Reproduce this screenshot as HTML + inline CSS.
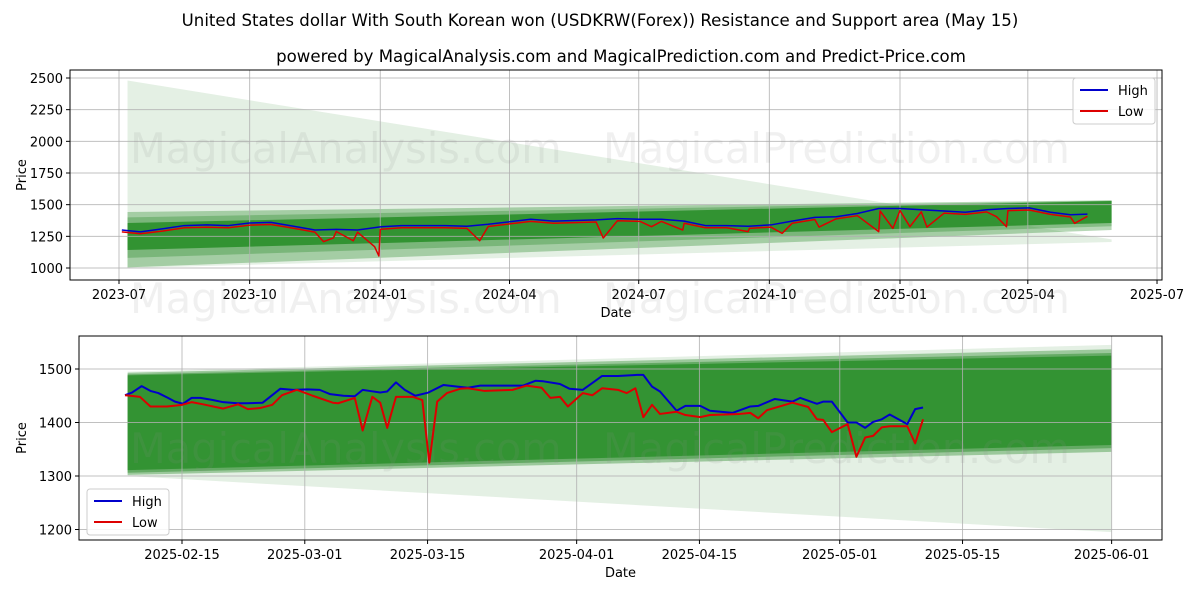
<!DOCTYPE html>
<html><head><meta charset="utf-8"><style>
body{margin:0;background:#fff;font-family:"Liberation Sans","DejaVu Sans",sans-serif;}
svg text{font-family:"DejaVu Sans","Liberation Sans",sans-serif;}
</style></head><body>
<svg id="c" width="1200" height="600" viewBox="0 0 1200 600" xmlns="http://www.w3.org/2000/svg">
<rect width="1200" height="600" fill="#fff"/>
<text x="600" y="26" text-anchor="middle" font-size="16.6">United States dollar With South Korean won (USDKRW(Forex)) Resistance and Support area (May 15)</text>
<text x="621" y="62" text-anchor="middle" font-size="16.6">powered by MagicalAnalysis.com and MagicalPrediction.com and Predict-Price.com</text>
<g id="top"></g>
<g id="bot"></g>
</svg>
<script>
// ---- Top chart data (day offsets from 2023-07-01) ----
const tHighDays=[2,15,31,46,62,77,92,107,123,138,153,168,184,199,215,230,245,260,275,290,306,321,336,351,367,382,398,413,428,443,459,474,490,505,520,535,550,565,581,596,611,626,641,656,670,682];
const tHigh=[1300,1285,1310,1335,1340,1335,1355,1360,1330,1300,1305,1300,1325,1335,1335,1335,1330,1345,1365,1385,1370,1375,1380,1390,1385,1385,1370,1335,1335,1330,1340,1370,1400,1405,1430,1470,1470,1460,1450,1440,1460,1470,1475,1440,1420,1425];
const tLowDays=[2,15,31,46,62,77,92,107,123,138,144,151,153,165,168,180,183,184,199,215,230,245,254,260,275,290,306,321,336,341,351,367,375,382,397,398,413,428,443,444,459,467,474,490,493,505,520,535,536,545,550,557,565,569,581,596,611,618,625,626,641,656,670,673,682];
const tLow=[1285,1270,1292,1318,1322,1318,1338,1343,1314,1283,1208,1237,1288,1215,1283,1168,1095,1305,1318,1318,1318,1313,1215,1328,1348,1368,1353,1358,1363,1237,1373,1368,1326,1368,1300,1353,1318,1318,1287,1313,1323,1274,1353,1383,1323,1388,1413,1287,1450,1313,1453,1326,1443,1323,1433,1423,1443,1405,1326,1453,1458,1423,1403,1353,1408];
const tTickLabels=["2023-07","2023-10","2024-01","2024-04","2024-07","2024-10","2025-01","2025-04","2025-07"];
const tTickDays=[0,92,184,275,366,458,550,640,731];
const tYTicks=[1000,1250,1500,1750,2000,2250,2500];
// ---- Bottom chart data (day offsets from 2025-02-15) ----
const bHighDays=[-6.5,-5.7,-4.6,-3.6,-2.7,-1.6,-0.8,0.1,1.1,2.1,3.5,4.7,6.3,7.4,9.2,11.2,12.7,14.3,15.7,16.9,18.4,19.7,20.6,21.4,22.6,23.4,24.4,25.4,26.6,28.1,29.8,31.4,32.6,34.0,35.9,38.9,40.3,41.2,43.1,44.2,45.7,47.9,49.7,51.9,52.6,53.6,54.5,56.4,57.4,59.1,60.2,62.8,64.8,65.7,67.6,69.6,70.5,72.4,73.1,74.1,75.9,76.9,77.9,78.8,79.8,80.7,82.7,83.6,84.5];
const bHigh=[1451,1456,1468,1459,1455,1446,1439,1435,1446,1446,1442,1438,1436,1436,1437,1463,1461,1462,1461,1453,1450,1449,1461,1459,1456,1458,1475,1461,1450,1456,1470,1467,1465,1469,1469,1469,1478,1477,1472,1463,1461,1487,1487,1489,1489,1467,1458,1422,1431,1431,1422,1418,1430,1431,1444,1439,1446,1435,1439,1439,1400,1400,1390,1401,1406,1415,1397,1425,1428];
const bLowDays=[-6.5,-4.8,-3.6,-1.7,0,1.1,2.4,4.7,6.4,7.5,8.9,10.3,11.4,13.1,14.9,17.2,17.8,19.7,20.6,21.7,22.6,23.4,24.4,26.3,27.4,28.2,29.1,30.2,31.7,32.6,34.5,37.7,39.3,41.0,42.0,43.1,44.0,45.7,46.8,47.9,49.7,50.7,51.7,52.6,53.6,54.5,56.4,57.4,59.1,60.2,63.6,64.8,65.7,66.7,69.6,71.4,72.4,73.1,74.1,75.9,76.9,77.9,78.8,79.8,80.7,82.7,83.6,84.5];
const bLow=[1451,1448,1430,1430,1433,1438,1434,1426,1434,1425,1427,1433,1451,1461,1450,1437,1436,1446,1385,1448,1437,1390,1448,1448,1442,1325,1439,1455,1463,1464,1459,1461,1469,1465,1446,1448,1430,1455,1451,1464,1461,1455,1464,1410,1433,1416,1420,1414,1410,1414,1416,1418,1408,1423,1437,1429,1406,1405,1382,1397,1336,1372,1375,1391,1393,1393,1361,1406];
const bTickLabels=["2025-02-15","2025-03-01","2025-03-15","2025-04-01","2025-04-15","2025-05-01","2025-05-15","2025-06-01"];
const bTickDays=[0,14,28,45,59,75,89,106];
const bYTicks=[1200,1300,1400,1500];

const NS="http://www.w3.org/2000/svg";
function mk(p,tag,at,txt){const e=document.createElementNS(NS,tag);for(const k in at)e.setAttribute(k,at[k]);if(txt!=null)e.textContent=txt;p.appendChild(e);return e;}

function panel(g,o){
  const X=d=>o.x0+(d-o.d0)*o.kx, Y=v=>o.y0-(v-o.v0)*o.ky;
  o.bands.forEach(b=>{
    const p=mk(g,'polygon',{points:[[X(b.d1),Y(b.l1)],[X(b.d2),Y(b.l2)],[X(b.d2),Y(b.u2)],[X(b.d1),Y(b.u1)]].map(q=>q.join(',')).join(' '),fill:b.c,'fill-opacity':b.a});
    
    
  });
  o.xt.forEach((d,i)=>{
    const x=X(d);
    const l=mk(g,'line',{x1:x,x2:x,y1:o.top,y2:o.bot,stroke:'#b0b0b0','stroke-width':1,'stroke-opacity':0.8});
    
    mk(g,'line',{x1:x,x2:x,y1:o.bot,y2:o.bot+4,stroke:'#000'});
    const t=mk(g,'text',{x:x,y:o.bot+19,'text-anchor':'middle','font-size':13},o.xl[i]);
    
  });
  o.yt.forEach(v=>{
    const y=Y(v);
    const l=mk(g,'line',{x1:o.left,x2:o.right,y1:y,y2:y,stroke:'#b0b0b0','stroke-width':1,'stroke-opacity':0.8});
    
    mk(g,'line',{x1:o.left-4,x2:o.left,y1:y,y2:y,stroke:'#000'});
    const t=mk(g,'text',{x:o.left-7,y:y+5,'text-anchor':'end','font-size':13},String(v));
    
  });
  o.wm.forEach(w=>{
    const t=mk(g,'text',{x:w[0],y:w[1],'font-size':41.5,fill:'#888','fill-opacity':0.13},w[2]);
    
  });
  const hl=mk(g,'polyline',{points:o.hd.map((d,i)=>X(d)+','+Y(o.hv[i])).join(' '),fill:'none',stroke:'#0000cc','stroke-width':o.lw,'stroke-linejoin':'round'});
  
  const ll=mk(g,'polyline',{points:o.ld.map((d,i)=>X(d)+','+Y(o.lv[i])).join(' '),fill:'none',stroke:'#dd0000','stroke-width':o.lw,'stroke-linejoin':'round'});
  
  const f=mk(g,'rect',{x:o.left,y:o.top,width:o.right-o.left,height:o.bot-o.top,fill:'none',stroke:'#000','stroke-width':1});
  
  const xa=mk(g,'text',{x:(o.left+o.right)/2,y:o.bot+37,'text-anchor':'middle','font-size':13},'Date');
  
  const cy=(o.top+o.bot)/2;
  const ya=mk(g,'text',{x:o.yl,y:cy,'text-anchor':'middle','font-size':13,transform:'rotate(-90 '+o.yl+' '+cy+')'},'Price');
  
  const L=o.leg;
  const lg=mk(g,'g',{});
  
  mk(lg,'rect',{x:L[0],y:L[1],width:82,height:46,rx:3,fill:'#fff','fill-opacity':0.85,stroke:'#ccc'});
  [['High','#0000cc'],['Low','#dd0000']].forEach((s,i)=>{
    const e=mk(lg,'g',{});
    
    mk(e,'line',{x1:L[0]+7,x2:L[0]+35,y1:L[1]+12+i*21,y2:L[1]+12+i*21,stroke:s[1],'stroke-width':2});
    mk(e,'text',{x:L[0]+45,y:L[1]+17+i*21,'font-size':13},s[0]);
  });
}

panel(document.getElementById('top'),{
  left:70,right:1162,top:70,bot:280,x0:119,d0:0,kx:1.42,y0:268,v0:1000,ky:0.12667,
  xt:tTickDays,xl:tTickLabels,yt:tYTicks,hd:tHighDays,hv:tHigh,ld:tLowDays,lv:tLow,lw:1.5,yl:26,
  leg:[1073,78],
  wm:[[130,163,'MagicalAnalysis.com'],[603,163,'MagicalPrediction.com'],[130,313,'MagicalAnalysis.com'],[603,313,'MagicalPrediction.com']],
  bands:[
    {d1:6,d2:699,l1:1000,l2:1205,u1:2480,u2:1226,c:'#2e8b2e',a:0.13},
    {d1:6,d2:699,l1:1005,l2:1300,u1:1442,u2:1535,c:'#2e8b2e',a:0.35},
    {d1:6,d2:699,l1:1080,l2:1330,u1:1400,u2:1532,c:'#2e8b2e',a:0.35},
    {d1:6,d2:699,l1:1142,l2:1355,u1:1355,u2:1529,c:'#2a8f2a',a:0.9}
  ]
});
panel(document.getElementById('bot'),{
  left:79,right:1162,top:336,bot:540,x0:182,d0:0,kx:8.77,y0:369,v0:1500,ky:0.535,
  xt:bTickDays,xl:bTickLabels,yt:bYTicks,hd:bHighDays,hv:bHigh,ld:bLowDays,lv:bLow,lw:2,yl:26,
  leg:[87,489],
  wm:[[130,463,'MagicalAnalysis.com'],[603,463,'MagicalPrediction.com']],
  bands:[
    {d1:-6.2,d2:106,l1:1300,l2:1195,u1:1495,u2:1545,c:'#2e8b2e',a:0.13},
    {d1:-6.2,d2:106,l1:1302,l2:1345,u1:1493,u2:1537,c:'#2e8b2e',a:0.4},
    {d1:-6.2,d2:106,l1:1306,l2:1352,u1:1490,u2:1530,c:'#2e8b2e',a:0.5},
    {d1:-6.2,d2:106,l1:1311,l2:1358,u1:1488,u2:1525,c:'#2a8f2a',a:0.85}
  ]
});
</script>
</body></html>
